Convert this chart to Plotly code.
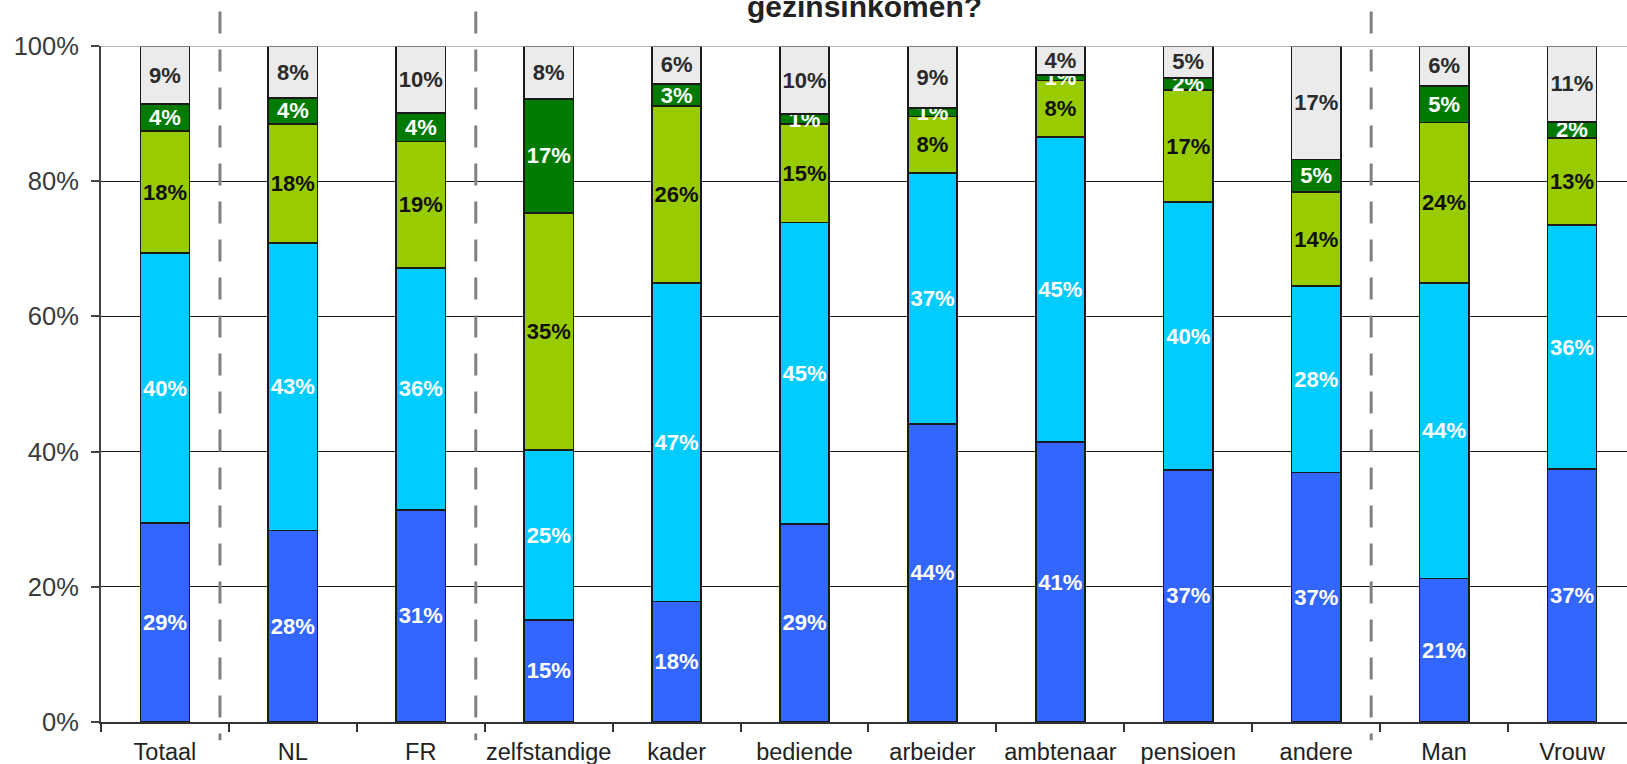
import plotly.graph_objects as go

categories = ["Totaal", "NL", "FR", "zelfstandige", "kader", "bediende",
              "arbeider", "ambtenaar", "pensioen", "andere", "Man", "Vrouw"]

serie_1 = [29.4, 28.3, 31.4, 15.1, 17.8, 29.3, 44.1, 41.4, 37.3, 36.9, 21.2, 37.4]
serie_2 = [40.0, 42.6, 35.8, 25.1, 47.1, 44.6, 37.1, 45.1, 39.6, 27.6, 43.7, 36.1]
serie_3 = [18.0, 17.6, 18.7, 35.1, 26.2, 14.6, 8.4, 8.4, 16.6, 13.9, 23.8, 12.9]
serie_4 = [4.0, 3.8, 4.2, 16.9, 3.3, 1.4, 1.2, 0.8, 1.8, 4.8, 5.4, 2.4]
serie_5 = [8.6, 7.7, 9.9, 7.8, 5.6, 10.1, 9.2, 4.3, 4.7, 16.8, 5.9, 11.2]

y_ticks = [0, 20, 40, 60, 80, 100]
y_tick_labels = ["0%", "20%", "40%", "60%", "80%", "100%"]
separators = [0.43, 2.43, 9.43]   # dashed group separators (category index positions)
title_line = "gezinsinkomen?"

series = [
    (serie_1, "#3366FF", "white"),
    (serie_2, "#00CCFF", "white"),
    (serie_3, "#99CC00", "#111111"),
    (serie_4, "#007A00", "white"),
    (serie_5, "#EBEBEB", "#2a2a2a"),
]

FONT = "Liberation Sans, Arial, sans-serif"

fig = go.Figure()
for i, (vals, color, tcol) in enumerate(series):
    fig.add_trace(go.Bar(
        x=categories, y=vals, name=f"reeks {i+1}",
        marker=dict(color=color, line=dict(color="#1a1a1a", width=1.6)),
        width=0.385,
        text=[f"{round(v)}%" for v in vals],
        textposition="inside", insidetextanchor="middle", textangle=0,
        textfont=dict(family=FONT, size=22, color=tcol, weight="bold"),
        hoverinfo="skip", showlegend=False,
    ))

shapes = []
for sx in separators:
    shapes.append(dict(type="line", xref="x", yref="paper", x0=sx, x1=sx,
                       y0=1.051, y1=-0.027,
                       line=dict(color="#808080", width=3, dash="22px,16px")))
# top line at 100%
shapes.append(dict(type="line", xref="paper", yref="y", x0=0, x1=1, y0=100, y1=100,
                   line=dict(color="#9a9a9a", width=1.5)))

fig.update_layout(
    barmode="stack",
    width=1627, height=764,
    margin=dict(l=101, r=0, t=46, b=42, autoexpand=False),
    paper_bgcolor="white", plot_bgcolor="white",
    uniformtext=dict(mode="show", minsize=22),
    shapes=shapes,
    annotations=[dict(text=f"<b>{title_line}</b>", xref="paper", yref="paper",
                      x=0.500, y=1.059, xanchor="center", yanchor="middle",
                      showarrow=False,
                      font=dict(family=FONT, size=30, color="#222222"))],
    font=dict(family=FONT),
)

fig.update_xaxes(
    type="category", range=[-0.5, 11.43], automargin=False,
    tickson="boundaries", ticks="outside", ticklen=8, tickwidth=2, tickcolor="#333333",
    showline=True, linecolor="#333333", linewidth=2,
    showgrid=False, tickangle=0,
    tickfont=dict(family=FONT, size=23.5, color="#222222"),
    ticklabelstandoff=8,
)
fig.update_yaxes(
    range=[0, 100], tickmode="array", tickvals=y_ticks, ticktext=y_tick_labels,
    automargin=False,
    ticks="outside", ticklen=8, tickwidth=2, tickcolor="#444444",
    showline=True, linecolor="#444444", linewidth=2,
    showgrid=True, gridcolor="#1a1a1a", gridwidth=1.3,
    zeroline=False,
    tickfont=dict(family=FONT, size=25.5, color="#3a3a3a"),
    ticklabelstandoff=7,
)

fig.write_html(
    "out.html",
    config={"displayModeBar": False},
    post_script="document.body.style.margin='0';document.body.style.overflow='hidden';",
)
